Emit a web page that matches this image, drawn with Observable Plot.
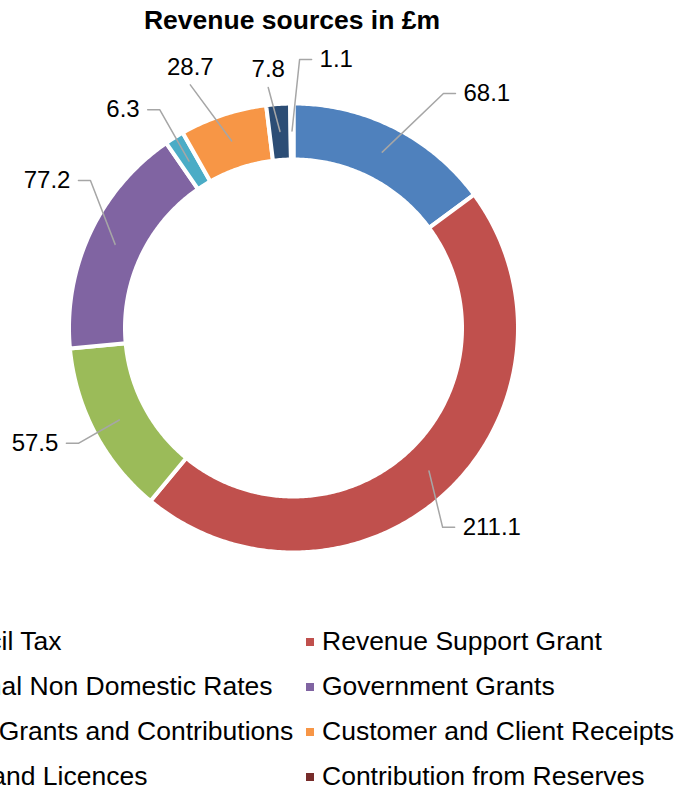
<!DOCTYPE html>
<html><head><meta charset="utf-8">
<script src="https://cdn.jsdelivr.net/npm/d3@7"></script>
<script src="https://cdn.jsdelivr.net/npm/@observablehq/plot@0.6"></script>
<style>
body{margin:0;background:#fff;width:676px;height:791px;overflow:hidden;position:relative;font-family:"Liberation Sans",Arial,sans-serif;color:#000;}
#title{position:absolute;left:0;top:0;width:584px;height:40px;line-height:40px;text-align:center;font-weight:bold;font-size:26.5px;}
#chart{position:absolute;left:0;top:40px;}
#legend{position:absolute;left:0;top:619px;width:676px;}
.row{position:relative;height:45px;line-height:45px;font-size:26.5px;white-space:nowrap;}
.item{position:absolute;top:0;}
.sw{position:absolute;width:8px;height:8px;top:19px;}
</style></head><body>
<div id="title">Revenue sources in £m</div>
<div id="chart"></div>
<div id="legend"></div>
<script>
// ---- data ----
const categories = ["Council Tax","Revenue Support Grant","National Non Domestic Rates","Government Grants","Other Grants and Contributions","Customer and Client Receipts","Fees and Licences","Contribution from Reserves"];
const values = [68.1, 211.1, 57.5, 77.2, 6.3, 28.7, 7.8, 1.1];
const colors = ["#4F81BD","#C0504D","#9BBB59","#8064A2","#4BACC6","#F79646","#2C4D75","#772C2A"];
// ---- label layout (angle in degrees clockwise from top, radius as fraction of outer radius) ----
const labelAngle = [32.6, 143.2, 241.8, 306, 328.5, 337, 354, 1.3];
const labelRadius = [1.251, 1.119, 1.097, 1.128, 1.151, 1.187, 1.087, 1.207];
const labelSide = ["right","right","left","left","left","top","top","right"];

const Rpx = 222.5, stroke = 4;
const outerR = 1 + (stroke/2)/Rpx, innerR = 170.5/Rpx - (stroke/2)/Rpx, anchorR = 197/Rpx;
const pie = d3.pie().sort(null).startAngle(0).endAngle(2*Math.PI)(values);

const pt = (a, r) => [Math.sin(a)*r, Math.cos(a)*r];
const slices = [];
pie.forEach((p, i) => {
  const n = Math.max(4, Math.ceil((p.endAngle - p.startAngle) / 0.01));
  const pts = [];
  for (let k = 0; k <= n; k++) pts.push(pt(p.startAngle + (p.endAngle - p.startAngle)*k/n, outerR));
  for (let k = n; k >= 0; k--) pts.push(pt(p.startAngle + (p.endAngle - p.startAngle)*k/n, innerR));
  pts.forEach(([x, y]) => slices.push({key: categories[i], x, y}));
});

const hseg = 12/Rpx;
const leaders = [], labels = [];
pie.forEach((p, i) => {
  const mid = (p.startAngle + p.endAngle)/2;
  const [ax, ay] = pt(mid, anchorR);
  const [ex, ey] = pt(labelAngle[i]*Math.PI/180, labelRadius[i]);
  leaders.push({key: categories[i], x: ax, y: ay});
  leaders.push({key: categories[i], x: ex, y: ey});
  const side = labelSide[i];
  if (side === "right") leaders.push({key: categories[i], x: ex + hseg, y: ey});
  if (side === "left") leaders.push({key: categories[i], x: ex - hseg, y: ey});
  labels.push({text: String(values[i]), x: ex, y: ey, side});
});

const font = '"Liberation Sans", Arial, sans-serif';
const chart = Plot.plot({
  width: 676, height: 570,
  marginLeft: 293 - Rpx, marginRight: 676 - 293 - Rpx,
  marginTop: 65, marginBottom: 570 - 287.5 - Rpx,
  x: {domain: [-1, 1], axis: null},
  y: {domain: [-1, 1], axis: null},
  color: {domain: categories, range: colors},
  style: {fontFamily: font, background: "white"},
  marks: [
    Plot.line(slices, {x: "x", y: "y", z: "key", fill: "key", stroke: "white", strokeWidth: stroke, curve: "linear-closed"}),
    Plot.line(leaders, {x: "x", y: "y", z: "key", stroke: "#A6A6A6", strokeWidth: 1.5}),
    Plot.text(labels.filter(d => d.side === "right"), {x: "x", y: "y", text: "text", textAnchor: "start", dx: 20, fontSize: 24, fill: "#000"}),
    Plot.text(labels.filter(d => d.side === "left"), {x: "x", y: "y", text: "text", textAnchor: "end", dx: -20, fontSize: 24, fill: "#000"}),
    Plot.text(labels.filter(d => d.side === "top"), {x: "x", y: "y", text: "text", textAnchor: "middle", dy: -18, fontSize: 24, fill: "#000"})
  ]
});
document.getElementById("chart").appendChild(chart);

// legend: two columns, row-major order (left column runs past the left edge, as in the reference)
const legend = document.getElementById("legend");
for (let r = 0; r < categories.length/2; r++) {
  const row = document.createElement("div");
  row.className = "row";
  for (let c = 0; c < 2; c++) {
    const i = r*2 + c;
    const item = document.createElement("div");
    item.className = "item";
    item.style.left = (c === 0 ? -75 : 322) + "px";
    const sw = document.createElement("span");
    sw.className = "sw";
    sw.style.left = "-16px";
    sw.style.background = colors[i];
    item.appendChild(sw);
    item.appendChild(document.createTextNode(categories[i]));
    row.appendChild(item);
  }
  legend.appendChild(row);
}
</script>
</body></html>
